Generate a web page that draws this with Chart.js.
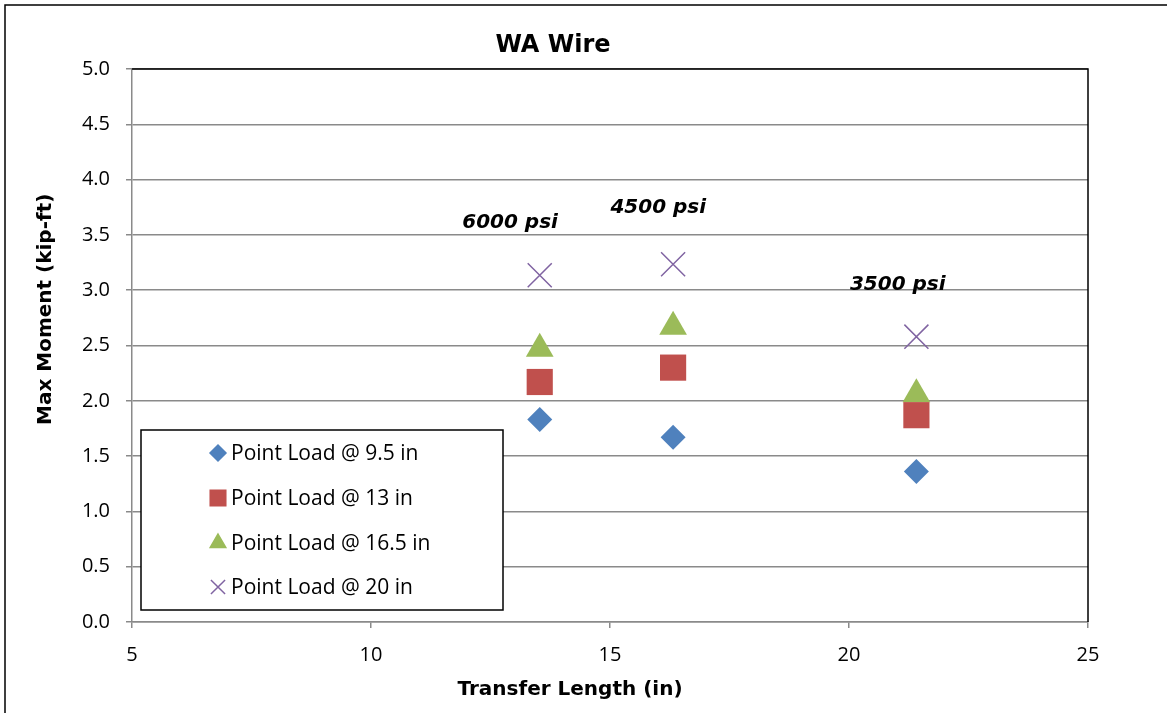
<!DOCTYPE html>
<html>
<head>
<meta charset="utf-8">
<script src="https://cdn.jsdelivr.net/npm/chart.js@4"></script>
<style>
  html, body { margin: 0; padding: 0; background: #fff; }
  #wrap { width: 1167px; height: 713px; position: relative; }
</style>
</head>
<body>
<div id="wrap"><canvas id="waChart"></canvas></div>
<script>
// transfer length (in) for the three concrete strengths
const transferLen = [13.53, 16.32, 21.41];
const strengthLabels = ['6000 psi', '4500 psi', '3500 psi'];
const labelPos = [[12.91, 3.56], [16.01, 3.695], [21.02, 3.0]];

// max moment (kip-ft) per load position
const load95 = [1.83, 1.67, 1.36];
const load13 = [2.17, 2.30, 1.87];
const load165 = [2.47, 2.67, 2.06];
const load20 = [3.135, 3.234, 2.58];

const xTicks = [5, 10, 15, 20, 25];
const yTicks = [0, 0.5, 1, 1.5, 2, 2.5, 3, 3.5, 4, 4.5, 5];

const FONT = "'Open Sans', 'Noto Sans', sans-serif";
const BOLD = "'DejaVu Sans', sans-serif";
const GRID = '#8a8a8a';

const toPts = (ys) => ys.map((y, i) => ({ x: transferLen[i], y: y }));

const series = [
  { label: 'Point Load @ 9.5 in', data: load95, style: 'rectRot', radius: 12.5, color: '#4F81BD', legR: 8 },
  { label: 'Point Load @ 13 in', data: load13, style: 'rect', radius: 18.5, color: '#C0504D', legR: 11 },
  { label: 'Point Load @ 16.5 in', data: load165, style: 'triangle', radius: 16, color: '#9BBB59', legR: 9 },
  { label: 'Point Load @ 20 in', data: load20, style: 'crossRot', radius: 17, color: '#8064A2', legR: 10 }
];

const extras = {
  id: 'extras',
  beforeDraw(chart) {
    const { ctx } = chart;
    ctx.save();
    ctx.fillStyle = '#fff';
    ctx.fillRect(0, 0, chart.width, chart.height);
    ctx.restore();
  },
  afterDatasetsDraw(chart) {
    const { ctx, chartArea: a, scales } = chart;
    ctx.save();
    // outer frame (left and top visible)
    ctx.strokeStyle = '#000';
    ctx.lineWidth = 1.5;
    ctx.beginPath();
    ctx.moveTo(5, 713); ctx.lineTo(5, 5); ctx.lineTo(1167, 5);
    ctx.stroke();
    // plot area top and right in black
    ctx.beginPath();
    ctx.moveTo(a.left, a.top); ctx.lineTo(a.right, a.top); ctx.lineTo(a.right, a.bottom);
    ctx.stroke();

    // title and axis titles
    ctx.fillStyle = '#000';
    ctx.textBaseline = 'alphabetic';
    ctx.textAlign = 'center';
    ctx.font = 'bold 24px ' + BOLD;
    ctx.fillText('WA Wire', 553, 52);
    ctx.font = 'bold 20px ' + BOLD;
    ctx.fillText('Transfer Length (in)', 570, 695);
    ctx.save();
    ctx.translate(51, 425);
    ctx.rotate(-Math.PI / 2);
    ctx.textAlign = 'left';
    ctx.fillText('Max Moment (kip-ft)', 0, 0);
    ctx.restore();

    // strength labels
    ctx.font = 'italic bold 20px ' + BOLD;
    strengthLabels.forEach((t, i) => {
      ctx.fillText(t, scales.x.getPixelForValue(labelPos[i][0]), scales.y.getPixelForValue(labelPos[i][1]));
    });

    // legend box
    ctx.fillStyle = '#fff';
    ctx.fillRect(141, 430, 362, 180);
    ctx.strokeStyle = '#000';
    ctx.lineWidth = 1.5;
    ctx.strokeRect(141, 430, 362, 180);
    ctx.font = '21px ' + FONT;
    ctx.textAlign = 'left';
    ctx.textBaseline = 'middle';
    const rows = [453, 498, 543, 587];
    series.forEach((s, i) => {
      ctx.save();
      ctx.fillStyle = s.color;
      ctx.strokeStyle = s.color;
      Chart.helpers.drawPoint(ctx, {
        pointStyle: s.style, radius: s.legR, rotation: 0, borderWidth: s.style === 'crossRot' ? 1.5 : 1
      }, 218, rows[i]);
      ctx.restore();
      ctx.fillStyle = '#000';
      ctx.fillText(s.label, 231, rows[i] + 1);
    });
    ctx.restore();
  }
};

new Chart(document.getElementById('waChart'), {
  type: 'scatter',
  data: {
    datasets: series.map(s => ({
      label: s.label,
      data: toPts(s.data),
      pointStyle: s.style,
      pointRadius: s.radius,
      pointHoverRadius: s.radius,
      backgroundColor: s.color,
      borderColor: s.color,
      borderWidth: s.style === 'crossRot' ? 1.5 : 0
    }))
  },
  options: {
    responsive: true,
    maintainAspectRatio: false,
    animation: false,
    layout: { padding: { top: 69, right: 79, left: 0, bottom: 0 } },
    plugins: {
      legend: { display: false },
      tooltip: { enabled: false }
    },
    scales: {
      x: {
        type: 'linear',
        min: 5, max: 25,
        afterBuildTicks: (s) => { s.ticks = xTicks.map(v => ({ value: v })); },
        afterFit: (s) => { s.height = 91; },
        grid: { drawOnChartArea: false, drawTicks: true, tickLength: 6, color: GRID, lineWidth: 1.5 },
        border: { color: GRID, width: 1.5 },
        ticks: { color: '#000', padding: 15, font: { family: FONT, size: 20 } }
      },
      y: {
        type: 'linear',
        min: 0, max: 5,
        afterBuildTicks: (s) => { s.ticks = yTicks.map(v => ({ value: v })); },
        afterFit: (s) => { s.width = 132; },
        grid: { color: GRID, lineWidth: 1.5, tickLength: 6 },
        border: { color: GRID, width: 1.5 },
        ticks: { color: '#000', padding: 16, font: { family: FONT, size: 20 }, callback: (v) => v.toFixed(1) }
      }
    }
  },
  plugins: [extras]
});
</script>
</body>
</html>
